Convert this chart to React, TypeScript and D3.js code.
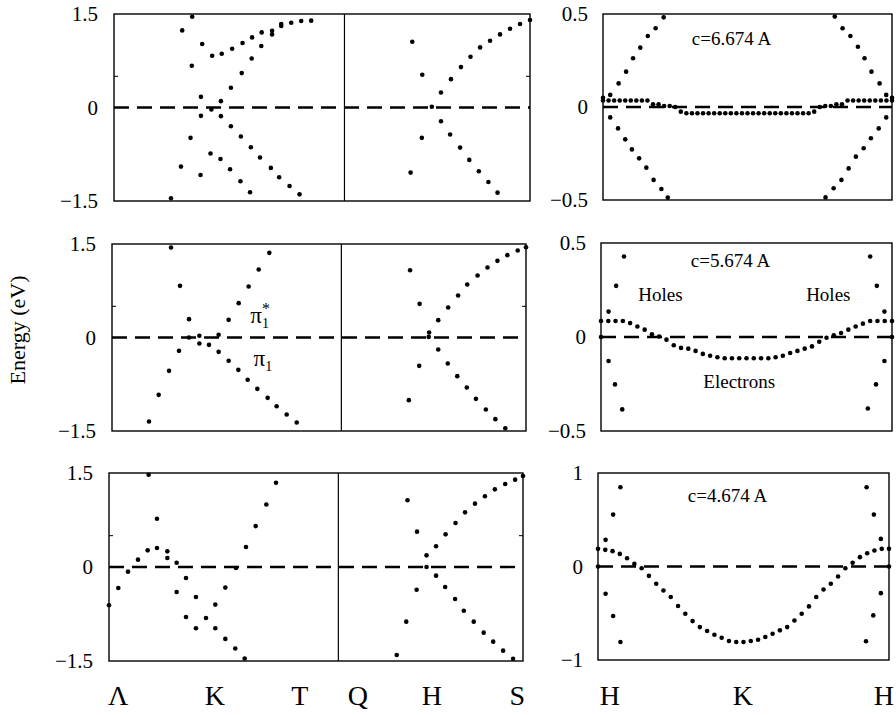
import React from 'react';
import * as d3 from 'd3';

// ---------- DATA (x in % of panel width, energy in eV) ----------
const row1Left: [number, number][] = [
  [13.7, -1.457], [16.1, -0.948], [18.4, -0.487], [20.9, -0.134], [23.4, -0.032], [25.7, 0.102], [28.1, 0.316],
  [30.7, 0.552], [33.1, 0.787], [35.4, 0.986], [38.0, 1.173], [40.2, 1.307],
  [18.8, 1.457], [16.4, 1.237], [21.2, 1.018], [23.6, 0.83], [25.9, 0.862], [28.4, 0.943], [30.9, 1.034],
  [33.2, 1.125], [35.5, 1.205], [38.0, 1.232], [40.2, 1.339], [42.6, 1.36], [45.0, 1.387], [47.4, 1.393],
  [18.7, 0.67], [20.9, 0.171],
  [25.7, -0.139], [28.1, -0.3], [30.5, -0.466], [32.9, -0.637], [35.1, -0.803], [37.7, -0.969], [39.7, -1.119],
  [42.2, -1.259], [44.6, -1.393],
  [23.2, -0.739], [25.6, -0.825], [27.9, -0.991], [30.4, -1.184], [32.7, -1.36], [20.8, -1.082],
  [71.7, 1.055], [74.1, 0.525], [76.4, 0.011], [78.6, 0.241], [81.0, 0.455], [83.4, 0.648], [85.7, 0.814],
  [88.0, 0.964], [90.4, 1.071], [92.8, 1.173], [95.2, 1.264], [97.6, 1.339], [100, 1.403],
  [74.0, -0.487], [71.3, -1.044], [78.6, -0.22], [80.8, -0.434], [83.2, -0.643], [85.4, -0.841], [87.7, -1.023],
  [90.0, -1.194], [92.2, -1.366],
];

const row2Left: [number, number][] = [
  [14.25, 1.444], [16.43, 0.829], [18.6, 0.294], [18.6, 0.0], [21.1, 0.027], [21.1, -0.096], [23.43, -0.118],
  [25.76, 0.043], [25.76, -0.23], [28.18, 0.283], [30.6, 0.551], [33.0, 0.818], [35.43, 1.091], [38.0, 1.358],
  [16.18, -0.214], [13.77, -0.535], [11.27, -0.92], [8.94, -1.348],
  [28.18, -0.374], [30.52, -0.519], [32.77, -0.679], [35.1, -0.824], [37.6, -0.968], [39.77, -1.102],
  [42.19, -1.235], [44.61, -1.364],
  [72.0, 1.08], [74.3, 0.54], [76.6, 0.08], [76.5, 0.01], [78.8, 0.278], [81.2, 0.481], [83.6, 0.674],
  [85.8, 0.85], [88.3, 0.995], [90.7, 1.123], [93.1, 1.23], [95.5, 1.321], [98.0, 1.396], [100, 1.449],
  [78.8, -0.193], [81.1, -0.417], [83.4, -0.62], [85.7, -0.802], [87.9, -0.984], [90.3, -1.155], [92.6, -1.31],
  [95.0, -1.455], [74.2, -0.455], [71.7, -1.005],
];

const row3Left: [number, number][] = [
  [0, -0.611], [2.25, -0.335], [4.59, -0.074], [7.0, 0.117], [9.34, 0.266], [9.58, 1.471], [11.59, 0.77],
  [11.59, 0.303], [14.09, 0.25], [14.09, 0.143], [16.34, 0.069], [16.34, -0.398], [18.6, -0.175], [18.6, -0.797],
  [21.0, -0.478], [21.0, -0.977], [23.43, -0.813], [25.68, -0.6], [25.68, -0.977], [28.1, -0.329], [28.1, -1.147],
  [30.5, -1.301], [30.68, -0.016], [32.77, -1.46], [33.09, 0.319], [35.43, 0.653], [38.0, 0.998], [40.34, 1.344],
  [72.1, 1.064], [74.4, 0.564], [76.7, 0.186], [76.7, 0.0], [79.0, 0.33], [81.3, 0.521], [83.7, 0.702],
  [86.0, 0.872], [88.4, 1.011], [90.8, 1.128], [93.2, 1.239], [95.7, 1.324], [98.1, 1.394], [100, 1.452],
  [79.0, -0.138], [81.2, -0.319], [83.6, -0.511], [85.7, -0.697], [88.1, -0.872], [90.5, -1.048], [92.8, -1.191],
  [95.2, -1.335], [97.6, -1.463], [74.3, -0.362], [71.8, -0.872], [69.5, -1.404],
];

const row1RightSteep: [number, number][] = [
  [2.5, 0.065], [5.4, 0.127], [8.0, 0.19], [10.4, 0.262], [12.9, 0.319], [15.5, 0.382], [18.2, 0.423], [21.0, 0.482],
  [2.5, -0.056], [5.2, -0.115], [7.7, -0.174], [10.0, -0.228], [12.5, -0.276], [15.0, -0.326], [17.5, -0.392],
  [20.2, -0.441], [22.4, -0.487],
  [80.2, 0.486], [82.9, 0.423], [85.6, 0.382], [88.2, 0.324], [90.5, 0.262], [92.9, 0.19], [95.7, 0.127], [98.0, 0.065],
  [77.0, -0.486], [79.8, -0.437], [82.5, -0.392], [85.0, -0.33], [87.5, -0.267], [90.2, -0.222], [92.7, -0.168],
  [95.4, -0.115], [98.0, -0.056],
  [0, 0.05], [100, 0.05],
];
const row1RightBand: number[] = [
  0.035, 0.035, 0.035, 0.035, 0.035, 0.035, 0.035, 0.035, 0.035, 0.015, 0.015, 0.005, 0.005, 0.0, -0.025,
  -0.034, -0.034, -0.034, -0.034, -0.034, -0.034, -0.034, -0.034, -0.034, -0.034, -0.034, -0.034, -0.034,
  -0.034, -0.034, -0.034, -0.034, -0.034, -0.034, -0.034, -0.034, -0.034, -0.034,
  -0.025, 0.0, 0.005, 0.005, 0.015, 0.015, 0.035, 0.035, 0.035, 0.035, 0.035, 0.035, 0.035, 0.035, 0.035,
];

const row2RightSteep: [number, number][] = [
  [7.9, 0.428], [5.2, 0.272], [2.6, 0.135], [2.6, -0.128], [4.8, -0.252], [7.3, -0.385],
  [92.5, 0.428], [94.8, 0.272], [97.4, 0.135], [97.4, -0.128], [94.5, -0.252], [91.7, -0.38],
  [0, 0], [100, 0],
];
const row2RightBand: number[] = [
  0.085, 0.085, 0.085, 0.085, 0.074, 0.056, 0.039, 0.014, 0.003, -0.014, -0.044, -0.058, -0.062, -0.074,
  -0.09, -0.1, -0.108, -0.113, -0.113, -0.113, -0.113, -0.113, -0.113, -0.113, -0.108, -0.1, -0.085, -0.074,
  -0.062, -0.05, -0.025, -0.004, 0.009, 0.021, 0.039, 0.056, 0.071, 0.085, 0.085, 0.085, 0.085,
];

const row3RightSteep: [number, number][] = [
  [7.7, 0.847], [5.2, 0.555], [2.6, 0.285], [2.6, -0.292], [5.2, -0.53], [7.7, -0.808], [0, 0],
  [92.3, 0.847], [94.8, 0.555], [97.2, 0.295], [97.2, -0.285], [94.6, -0.523], [92.1, -0.8], [100, 0],
];
const row3RightBand: number[] = [
  0.189, 0.178, 0.164, 0.135, 0.089, 0.028, -0.018, -0.1, -0.185, -0.256, -0.327, -0.423, -0.505, -0.584,
  -0.648, -0.69, -0.73, -0.762, -0.797, -0.808, -0.808, -0.797, -0.783, -0.754, -0.719, -0.683, -0.648,
  -0.577, -0.505, -0.427, -0.327, -0.246, -0.185, -0.107, -0.018, 0.039, 0.1, 0.142, 0.171, 0.189, 0.189,
];

const leftTicks = [1.5, 0, -1.5];
const leftTickLabels = ['1.5', '0', '\u22121.5'];
const rightTicksSmall = [0.5, 0, -0.5];
const rightTickLabelsSmall = ['0.5', '0', '\u22120.5'];
const rightTicksBig = [1, 0, -1];
const rightTickLabelsBig = ['1', '0', '\u22121'];

const leftKLabels = ['\u039B', 'K', 'T', 'Q', 'H', 'S'];
const leftKPos = [2.2, 25.6, 46.1, 60.1, 78.0, 98.6];
const rightKLabels = ['H', 'K', 'H'];
const rightKPos = [4.1, 49.8, 98.2];

const captions = ['c=6.674 A', 'c=5.674 A', 'c=4.674 A'];

const FONT = "Liberation Serif, Times New Roman, DejaVu Serif, serif";

type Box = { l: number; r: number; t: number; b: number };

function Panel(props: {
  box: Box;
  domain: [number, number];
  pts: [number, number][];
  band?: number[];
  ticks: number[];
  tickLabels: string[];
  divider?: number;
  minor?: number[];
  labelGap: number;
}) {
  const { box, domain, pts, band, ticks, tickLabels, divider, minor, labelGap } = props;
  const x = d3.scaleLinear().domain([0, 100]).range([box.l, box.r]);
  const y = d3.scaleLinear().domain(domain).range([box.b, box.t]);
  const bx = band ? d3.scaleLinear().domain([0, band.length - 1]).range([box.l, box.r]) : null;
  return (
    <g>
      <rect x={box.l} y={box.t} width={box.r - box.l} height={box.b - box.t} fill="none" stroke="#000" strokeWidth={1.4} />
      {divider !== undefined && (
        <line x1={x(divider)} x2={x(divider)} y1={box.t} y2={box.b} stroke="#000" strokeWidth={1.2} />
      )}
      {(minor || []).map((m, i) => (
        <g key={'m' + i}>
          <line x1={box.l} x2={box.l + 4} y1={y(m)} y2={y(m)} stroke="#000" strokeWidth={1} />
          {divider !== undefined && (
            <line x1={box.r - 4} x2={box.r} y1={y(m)} y2={y(m)} stroke="#000" strokeWidth={1} />
          )}
        </g>
      ))}
      <line x1={box.l} x2={box.r} y1={y(0)} y2={y(0)} stroke="#000" strokeWidth={2.4} strokeDasharray="15 8" />
      {ticks.map((t, i) => (
        <text key={'t' + i} x={box.l - labelGap} y={y(t)} dy="0.35em" textAnchor="end" fontSize={21} style={{ fontFamily: FONT }}>
          {tickLabels[i]}
        </text>
      ))}
      {pts.map((p, i) => (
        <circle key={'p' + i} cx={x(p[0])} cy={y(p[1])} r={2.3} fill="#000" />
      ))}
      {band && bx && band.map((v, i) => <circle key={'b' + i} cx={bx(i)} cy={y(v)} r={2.3} fill="#000" />)}
    </g>
  );
}

const leftBoxes: Box[] = [
  { l: 114, r: 530, t: 14, b: 201 },
  { l: 112, r: 526, t: 244, b: 431 },
  { l: 109, r: 523, t: 473, b: 661 },
];
const rightBoxes: Box[] = [
  { l: 603, r: 892, t: 14, b: 200 },
  { l: 601, r: 892, t: 243, b: 431 },
  { l: 598, r: 889, t: 473, b: 660 },
];

export default function App() {
  const leftData = [row1Left, row2Left, row3Left];
  const rightData = [
    { pts: row1RightSteep, band: row1RightBand, dom: [-0.5, 0.5] as [number, number], ticks: rightTicksSmall, labels: rightTickLabelsSmall },
    { pts: row2RightSteep, band: row2RightBand, dom: [-0.5, 0.5] as [number, number], ticks: rightTicksSmall, labels: rightTickLabelsSmall },
    { pts: row3RightSteep, band: row3RightBand, dom: [-1, 1] as [number, number], ticks: rightTicksBig, labels: rightTickLabelsBig },
  ];
  const captionY = [45, 267, 502];
  const bl = leftBoxes[2];
  const br = rightBoxes[2];
  const kxL = d3.scaleLinear().domain([0, 100]).range([bl.l, bl.r]);
  const kxR = d3.scaleLinear().domain([0, 100]).range([br.l, br.r]);
  const r2 = leftBoxes[1];
  const y2 = d3.scaleLinear().domain([-1.5, 1.5]).range([r2.b, r2.t]);
  const x2 = d3.scaleLinear().domain([0, 100]).range([r2.l, r2.r]);
  const rr2 = rightBoxes[1];
  const yr2 = d3.scaleLinear().domain([-0.5, 0.5]).range([rr2.b, rr2.t]);
  const xr2 = d3.scaleLinear().domain([0, 100]).range([rr2.l, rr2.r]);
  const tf = { fontFamily: FONT };
  return (
    <svg width={896} height={715} style={{ position: 'absolute', left: 0, top: 0, background: '#fff', fontFamily: FONT }}>
      <rect x={0} y={0} width={896} height={715} fill="#fff" />
      {leftData.map((d, i) => (
        <Panel key={'L' + i} box={leftBoxes[i]} domain={[-1.5, 1.5]} pts={d} ticks={leftTicks} tickLabels={leftTickLabels}
          divider={55.4} minor={[0.5]} labelGap={16} />
      ))}
      {rightData.map((d, i) => (
        <Panel key={'R' + i} box={rightBoxes[i]} domain={d.dom} pts={d.pts} band={d.band} ticks={d.ticks}
          tickLabels={d.labels} labelGap={15} />
      ))}
      {captions.map((c, i) => (
        <text key={'c' + i} x={(rightBoxes[i].l + rightBoxes[i].r) / 2 - 16} y={captionY[i]} textAnchor="middle" fontSize={19} style={tf}>
          {c}
        </text>
      ))}
      <text x={xr2(12.8)} y={yr2(0.19)} fontSize={19} style={tf}>Holes</text>
      <text x={xr2(70.5)} y={yr2(0.19)} fontSize={19} style={tf}>Holes</text>
      <text x={xr2(47.5)} y={yr2(-0.27)} textAnchor="middle" fontSize={19} style={tf}>Electrons</text>
      <text x={x2(33.4)} y={y2(0.23)} fontSize={23} style={tf}>
        {'\u03C0'}
        <tspan dy={5} fontSize={14}>1</tspan>
        <tspan dx={-7} dy={-14} fontSize={16}>*</tspan>
      </text>
      <text x={x2(34.2)} y={y2(-0.45)} fontSize={23} style={tf}>
        {'\u03C0'}
        <tspan dy={5} fontSize={14}>1</tspan>
      </text>
      <text transform="translate(25,330) rotate(-90)" textAnchor="middle" fontSize={22} style={tf}>Energy (eV)</text>
      {leftKLabels.map((k, i) => (
        <text key={'kl' + i} x={kxL(leftKPos[i])} y={705} textAnchor="middle" fontSize={28} style={tf}>{k}</text>
      ))}
      {rightKLabels.map((k, i) => (
        <text key={'kr' + i} x={kxR(rightKPos[i])} y={705} textAnchor="middle" fontSize={28} style={tf}>{k}</text>
      ))}
    </svg>
  );
}
